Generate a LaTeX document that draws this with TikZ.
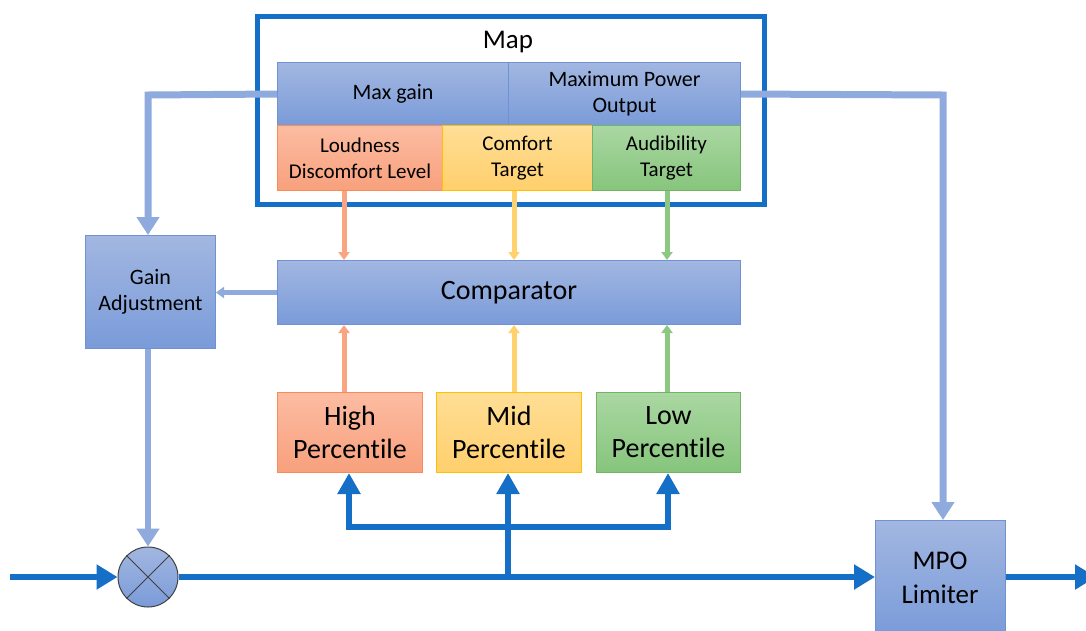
\documentclass[tikz,border=0pt]{standalone}
\usepackage{fontspec}
\setmainfont{Carlito}[Ligatures=NoCommon]
\usetikzlibrary{arrows.meta}
\definecolor{bT}{RGB}{162,183,225}
\definecolor{bB}{RGB}{122,155,217}
\definecolor{bL}{RGB}{110,146,212}
\definecolor{oT}{RGB}{252,188,162}
\definecolor{oB}{RGB}{248,160,124}
\definecolor{oL}{RGB}{245,140,90}
\definecolor{yT}{RGB}{255,222,150}
\definecolor{yB}{RGB}{255,207,108}
\definecolor{yL}{RGB}{255,192,0}
\definecolor{gT}{RGB}{170,215,162}
\definecolor{gB}{RGB}{134,197,124}
\definecolor{gL}{RGB}{112,180,100}
\definecolor{dblue}{RGB}{22,111,199}
\definecolor{lcon}{RGB}{143,170,220}
\definecolor{ocon}{RGB}{250,165,130}
\definecolor{ycon}{RGB}{255,210,110}
\definecolor{gcon}{RGB}{140,200,130}
\tikzset{
  box/.style={rectangle, anchor=north west, inner sep=0pt, align=center, line width=1pt},
  bluebox/.style={box, draw=bL, top color=bT, bottom color=bB},
  orangebox/.style={box, draw=oL, top color=oT, bottom color=oB},
  yellowbox/.style={box, draw=yL, top color=yT, bottom color=yB},
  greenbox/.style={box, draw=gL, top color=gT, bottom color=gB},
  fsmall/.style={font=\fontsize{21}{26}\selectfont},
  fmid/.style={font=\fontsize{22}{26}\selectfont},
  fbig/.style={font=\fontsize{28}{33}\selectfont},
  mainline/.style={draw=dblue, line width=6.5pt, -{Triangle[width=24pt,length=21pt]}},
  treeline/.style={draw=dblue, line width=6pt, line cap=rect},
  lightcon/.style={draw=lcon, line width=7pt, -{Triangle[width=22pt,length=18pt]}},
  smallcon/.style={line width=5pt, -{Triangle[width=11pt,length=8pt]}},
}
\begin{document}
\begin{tikzpicture}[x=1pt,y=-1pt]
\useasboundingbox (0,0) rectangle (1086,630);
% map frame
\node[draw=dblue, line width=4.5pt, rectangle, minimum width=507pt, minimum height=188pt, anchor=north west, inner sep=0pt] (map) at (255,14) {};
\node[font=\fontsize{27}{30}\selectfont] (maplabel) at (508,42) {Map};
\node[bluebox, fmid, minimum width=231pt, minimum height=63pt] (maxgain) at (277,62) {Max gain};
\node[bluebox, fmid, minimum width=232pt, minimum height=63pt] (mpo) at (508,62) {Maximum Power\\Output};
\node[orangebox, fsmall, minimum width=165pt, minimum height=65pt] (ldl) at (277,125) {Loudness\\Discomfort Level};
\node[yellowbox, fsmall, minimum width=150pt, minimum height=65pt] (comf) at (442,125) {Comfort\\Target};
\node[greenbox, fsmall, minimum width=148pt, minimum height=65pt] (aud) at (592,125) {Audibility\\Target};
% comparator
\node[bluebox, font=\fontsize{28}{30}\selectfont, minimum width=463pt, minimum height=64pt] (comp) at (277,260) {Comparator};
% gain adjustment
\node[bluebox, fmid, minimum width=130pt, minimum height=113pt] (gain) at (85,235) {Gain\\Adjustment};
% percentiles
\node[orangebox, fbig, minimum width=145pt, minimum height=80pt] (high) at (277,392) {High\\Percentile};
\node[yellowbox, fbig, minimum width=145pt, minimum height=80pt] (mid) at (436,392) {Mid\\Percentile};
\node[greenbox, fbig, minimum width=144pt, minimum height=80pt] (low) at (596,392) {Low\\Percentile};
% MPO limiter
\node[bluebox, minimum width=130pt, minimum height=115pt] (lim) at (875,520) {};
\node[align=center, font=\fontsize{27}{34}\selectfont] (limtext) at (940,578) {MPO\\Limiter};
% multiplier
\node[circle, draw=black!75, line width=1pt, top color=bT, bottom color=bB, minimum size=60pt, inner sep=0pt] (mult) at (148,577) {};
\draw[black!75, line width=1pt] (mult.north west) -- (mult.south east) (mult.north east) -- (mult.south west);
% coordinates
\coordinate (in) at (10,577);
\coordinate (out) at (1096,577);
\coordinate (split) at (508,577);
\coordinate (tl) at (349,527);
\coordinate (tm) at (508,527);
\coordinate (tr) at (668,527);
% main signal path
\draw[mainline] (in) -- (mult.west);
\draw[mainline] (mult.east) -- (lim.west |- mult.east);
\draw[mainline] (lim.east |- mult.east) -- (out);
% tree
\draw[treeline] (split) -- (tm);
\draw[treeline] (tl) -- (tr);
\draw[mainline, -{Triangle[width=22pt,length=21pt]}] (tl) -- (tl |- high.south);
\draw[mainline, -{Triangle[width=22pt,length=21pt]}] (tm) -- (tm |- mid.south);
\draw[mainline, -{Triangle[width=22pt,length=21pt]}] (tr) -- (tr |- low.south);
% light connectors from map
\draw[lightcon] (maxgain.west) -- (148,95) -- (gain.north -| 148,0);
\draw[lightcon] (mpo.east) -- (943,95) -- (lim.north -| 943,0);
\draw[lightcon, line width=6pt] (gain.south -| 148,0) -- (mult.north);
\draw[lcon, smallcon, line width=5pt] (comp.west) -- (gain.east |- comp.west);
% colored connectors
\draw[ocon, smallcon] (ldl.south -| 344,0) -- (comp.north -| 344,0);
\draw[ycon, smallcon] (comf.south -| 514,0) -- (comp.north -| 514,0);
\draw[gcon, smallcon] (aud.south -| 667,0) -- (comp.north -| 667,0);
\draw[ocon, smallcon] (high.north -| 344,0) -- (comp.south -| 344,0);
\draw[ycon, smallcon] (mid.north -| 514,0) -- (comp.south -| 514,0);
\draw[gcon, smallcon] (low.north -| 667,0) -- (comp.south -| 667,0);
\end{tikzpicture}
\end{document}
